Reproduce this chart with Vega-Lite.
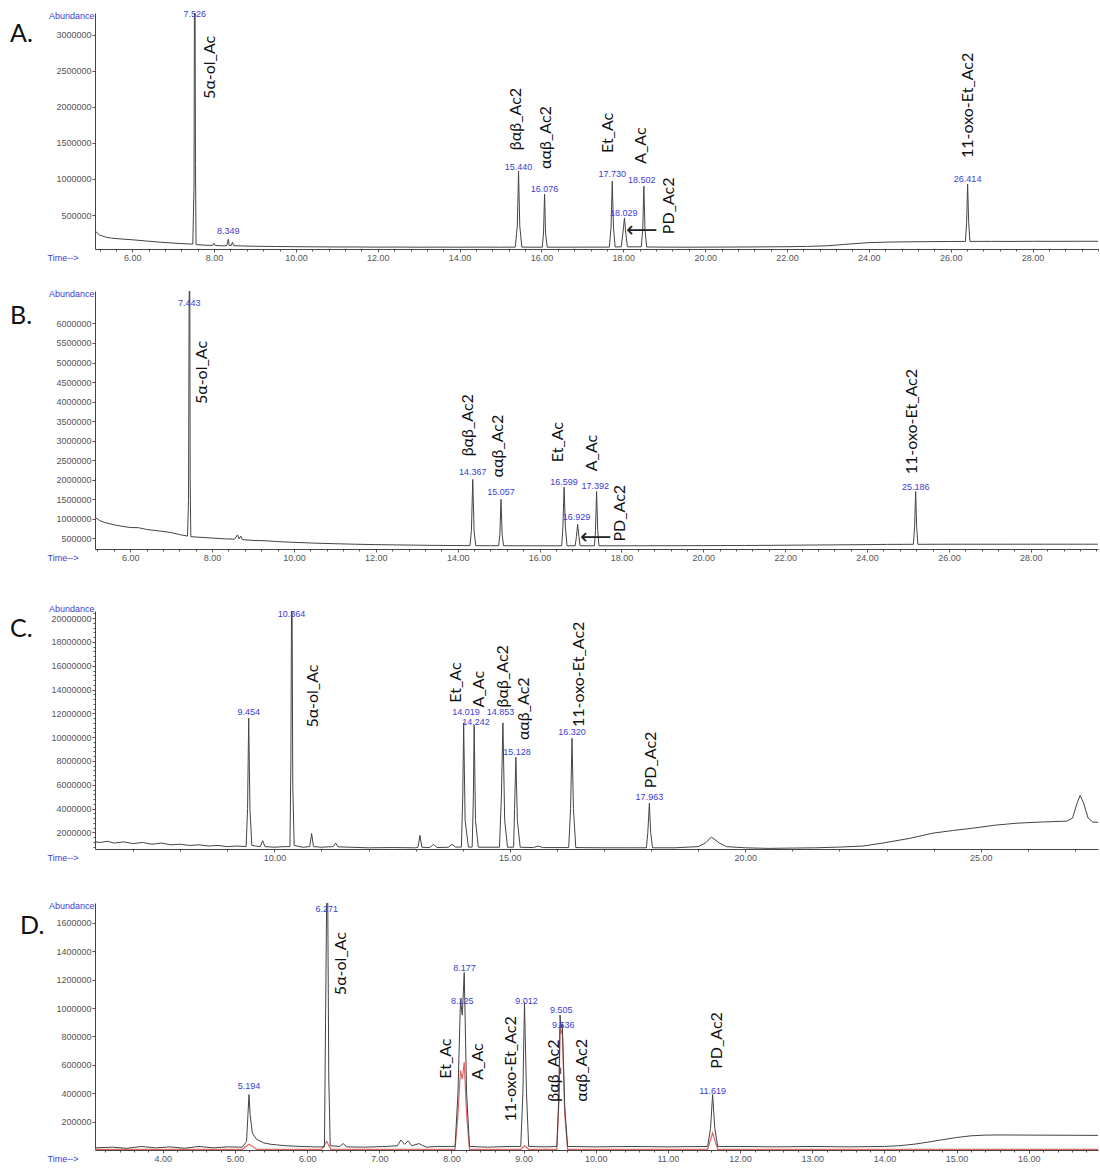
{
"$schema": "https://vega.github.io/schema/vega-lite/v6.json",
"padding": {"left": 10, "top": 10, "right": 0, "bottom": 0},
"background": "white",
"config": {
  "view": {"stroke": null},
  "axis": {"labelFont": "Liberation Sans", "labelFontSize": 9, "labelColor": "#555", "titleFont": "Liberation Sans", "titleFontSize": 9, "titleFontWeight": "normal", "titleColor": "#3c3cd2", "domainColor": "#444", "tickColor": "#555", "tickSize": 3, "grid": false, "labelPadding": 1, "labelFlush": false, "labelOverlap": false},
  "title": {"font": "Lato, 'Open Sans', sans-serif", "fontSize": 25, "fontWeight": "normal", "color": "#111", "anchor": "start", "frame": "group", "orient": "top", "offset": 0, "baseline": "alphabetic"}
},
"datasets": {
"curves": [
{"p":"A","s":"m","t":5.09,"v":280000},{"p":"A","s":"m","t":5.2,"v":225000},{"p":"A","s":"m","t":5.35,"v":195000},{"p":"A","s":"m","t":5.5,"v":180000},{"p":"A","s":"m","t":5.75,"v":168000},{"p":"A","s":"m","t":6.0,"v":158000},{"p":"A","s":"m","t":6.3,"v":143000},{"p":"A","s":"m","t":6.6,"v":128000},{"p":"A","s":"m","t":7.0,"v":112000},{"p":"A","s":"m","t":7.3,"v":102000},{"p":"A","s":"m","t":7.48,"v":98000},{"p":"A","s":"m","t":7.51,"v":900000},{"p":"A","s":"m","t":7.52,"v":3500000},{"p":"A","s":"m","t":7.535,"v":3500000},{"p":"A","s":"m","t":7.545,"v":1200000},{"p":"A","s":"m","t":7.56,"v":90000},{"p":"A","s":"m","t":7.8,"v":82000},{"p":"A","s":"m","t":7.97,"v":80000},{"p":"A","s":"m","t":8.0,"v":110000},{"p":"A","s":"m","t":8.03,"v":78000},{"p":"A","s":"m","t":8.2,"v":75000},{"p":"A","s":"m","t":8.31,"v":76000},{"p":"A","s":"m","t":8.33,"v":130000},{"p":"A","s":"m","t":8.349,"v":165000},{"p":"A","s":"m","t":8.37,"v":80000},{"p":"A","s":"m","t":8.42,"v":78000},{"p":"A","s":"m","t":8.45,"v":125000},{"p":"A","s":"m","t":8.48,"v":76000},{"p":"A","s":"m","t":8.7,"v":72000},{"p":"A","s":"m","t":9.0,"v":68000},{"p":"A","s":"m","t":9.5,"v":65000},{"p":"A","s":"m","t":10.0,"v":62000},{"p":"A","s":"m","t":10.5,"v":60000},{"p":"A","s":"m","t":11.0,"v":58000},{"p":"A","s":"m","t":11.5,"v":58000},{"p":"A","s":"m","t":12.0,"v":56000},{"p":"A","s":"m","t":12.5,"v":57000},{"p":"A","s":"m","t":13.0,"v":55000},{"p":"A","s":"m","t":13.5,"v":56000},{"p":"A","s":"m","t":14.0,"v":55000},{"p":"A","s":"m","t":14.5,"v":56000},{"p":"A","s":"m","t":15.0,"v":55000},{"p":"A","s":"m","t":15.36,"v":56000},{"p":"A","s":"m","t":15.41,"v":350000},{"p":"A","s":"m","t":15.44,"v":1110000},{"p":"A","s":"m","t":15.47,"v":350000},{"p":"A","s":"m","t":15.52,"v":56000},{"p":"A","s":"m","t":15.8,"v":55000},{"p":"A","s":"m","t":16.02,"v":55000},{"p":"A","s":"m","t":16.05,"v":250000},{"p":"A","s":"m","t":16.076,"v":790000},{"p":"A","s":"m","t":16.1,"v":250000},{"p":"A","s":"m","t":16.14,"v":55000},{"p":"A","s":"m","t":16.6,"v":55000},{"p":"A","s":"m","t":17.0,"v":56000},{"p":"A","s":"m","t":17.66,"v":56000},{"p":"A","s":"m","t":17.7,"v":330000},{"p":"A","s":"m","t":17.73,"v":970000},{"p":"A","s":"m","t":17.76,"v":330000},{"p":"A","s":"m","t":17.8,"v":58000},{"p":"A","s":"m","t":17.95,"v":60000},{"p":"A","s":"m","t":17.99,"v":250000},{"p":"A","s":"m","t":18.029,"v":460000},{"p":"A","s":"m","t":18.06,"v":250000},{"p":"A","s":"m","t":18.1,"v":60000},{"p":"A","s":"m","t":18.44,"v":60000},{"p":"A","s":"m","t":18.475,"v":300000},{"p":"A","s":"m","t":18.502,"v":900000},{"p":"A","s":"m","t":18.53,"v":300000},{"p":"A","s":"m","t":18.57,"v":58000},{"p":"A","s":"m","t":19.0,"v":56000},{"p":"A","s":"m","t":19.5,"v":55000},{"p":"A","s":"m","t":20.0,"v":56000},{"p":"A","s":"m","t":20.5,"v":57000},{"p":"A","s":"m","t":21.0,"v":58000},{"p":"A","s":"m","t":21.5,"v":60000},{"p":"A","s":"m","t":22.0,"v":62000},{"p":"A","s":"m","t":22.5,"v":66000},{"p":"A","s":"m","t":23.0,"v":75000},{"p":"A","s":"m","t":23.5,"v":98000},{"p":"A","s":"m","t":24.0,"v":118000},{"p":"A","s":"m","t":24.5,"v":126000},{"p":"A","s":"m","t":25.0,"v":130000},{"p":"A","s":"m","t":25.5,"v":132000},{"p":"A","s":"m","t":26.0,"v":134000},{"p":"A","s":"m","t":26.36,"v":135000},{"p":"A","s":"m","t":26.39,"v":400000},{"p":"A","s":"m","t":26.414,"v":930000},{"p":"A","s":"m","t":26.44,"v":400000},{"p":"A","s":"m","t":26.47,"v":135000},{"p":"A","s":"m","t":27.0,"v":136000},{"p":"A","s":"m","t":27.5,"v":135000},{"p":"A","s":"m","t":28.0,"v":137000},{"p":"A","s":"m","t":28.5,"v":136000},{"p":"A","s":"m","t":29.0,"v":137000},{"p":"A","s":"m","t":29.6,"v":137000},
{"p":"B","s":"m","t":5.14,"v":1040000},{"p":"B","s":"m","t":5.25,"v":960000},{"p":"B","s":"m","t":5.4,"v":900000},{"p":"B","s":"m","t":5.6,"v":850000},{"p":"B","s":"m","t":5.8,"v":810000},{"p":"B","s":"m","t":6.0,"v":780000},{"p":"B","s":"m","t":6.2,"v":775000},{"p":"B","s":"m","t":6.4,"v":730000},{"p":"B","s":"m","t":6.6,"v":705000},{"p":"B","s":"m","t":6.8,"v":680000},{"p":"B","s":"m","t":7.0,"v":650000},{"p":"B","s":"m","t":7.2,"v":600000},{"p":"B","s":"m","t":7.4,"v":560000},{"p":"B","s":"m","t":7.425,"v":1500000},{"p":"B","s":"m","t":7.437,"v":6000000},{"p":"B","s":"m","t":7.443,"v":7200000},{"p":"B","s":"m","t":7.455,"v":7200000},{"p":"B","s":"m","t":7.465,"v":2000000},{"p":"B","s":"m","t":7.48,"v":545000},{"p":"B","s":"m","t":7.7,"v":530000},{"p":"B","s":"m","t":8.0,"v":510000},{"p":"B","s":"m","t":8.3,"v":490000},{"p":"B","s":"m","t":8.55,"v":480000},{"p":"B","s":"m","t":8.62,"v":590000},{"p":"B","s":"m","t":8.66,"v":490000},{"p":"B","s":"m","t":8.7,"v":560000},{"p":"B","s":"m","t":8.74,"v":470000},{"p":"B","s":"m","t":9.0,"v":450000},{"p":"B","s":"m","t":9.3,"v":440000},{"p":"B","s":"m","t":9.6,"v":420000},{"p":"B","s":"m","t":10.0,"v":400000},{"p":"B","s":"m","t":10.5,"v":380000},{"p":"B","s":"m","t":11.0,"v":365000},{"p":"B","s":"m","t":11.5,"v":352000},{"p":"B","s":"m","t":12.0,"v":342000},{"p":"B","s":"m","t":12.5,"v":335000},{"p":"B","s":"m","t":13.0,"v":328000},{"p":"B","s":"m","t":13.5,"v":322000},{"p":"B","s":"m","t":14.0,"v":318000},{"p":"B","s":"m","t":14.3,"v":316000},{"p":"B","s":"m","t":14.335,"v":700000},{"p":"B","s":"m","t":14.367,"v":2010000},{"p":"B","s":"m","t":14.4,"v":700000},{"p":"B","s":"m","t":14.44,"v":316000},{"p":"B","s":"m","t":14.8,"v":314000},{"p":"B","s":"m","t":15.0,"v":314000},{"p":"B","s":"m","t":15.03,"v":600000},{"p":"B","s":"m","t":15.057,"v":1500000},{"p":"B","s":"m","t":15.085,"v":600000},{"p":"B","s":"m","t":15.12,"v":314000},{"p":"B","s":"m","t":15.8,"v":312000},{"p":"B","s":"m","t":16.4,"v":312000},{"p":"B","s":"m","t":16.54,"v":312000},{"p":"B","s":"m","t":16.57,"v":800000},{"p":"B","s":"m","t":16.599,"v":1810000},{"p":"B","s":"m","t":16.63,"v":800000},{"p":"B","s":"m","t":16.67,"v":312000},{"p":"B","s":"m","t":16.87,"v":312000},{"p":"B","s":"m","t":16.9,"v":550000},{"p":"B","s":"m","t":16.929,"v":860000},{"p":"B","s":"m","t":16.96,"v":550000},{"p":"B","s":"m","t":16.99,"v":312000},{"p":"B","s":"m","t":17.34,"v":312000},{"p":"B","s":"m","t":17.365,"v":700000},{"p":"B","s":"m","t":17.392,"v":1700000},{"p":"B","s":"m","t":17.42,"v":700000},{"p":"B","s":"m","t":17.45,"v":312000},{"p":"B","s":"m","t":18.0,"v":312000},{"p":"B","s":"m","t":19.0,"v":314000},{"p":"B","s":"m","t":20.0,"v":316000},{"p":"B","s":"m","t":21.0,"v":320000},{"p":"B","s":"m","t":22.0,"v":326000},{"p":"B","s":"m","t":23.0,"v":334000},{"p":"B","s":"m","t":24.0,"v":342000},{"p":"B","s":"m","t":24.5,"v":348000},{"p":"B","s":"m","t":25.0,"v":350000},{"p":"B","s":"m","t":25.13,"v":350000},{"p":"B","s":"m","t":25.16,"v":800000},{"p":"B","s":"m","t":25.186,"v":1700000},{"p":"B","s":"m","t":25.21,"v":800000},{"p":"B","s":"m","t":25.24,"v":350000},{"p":"B","s":"m","t":26.0,"v":352000},{"p":"B","s":"m","t":27.0,"v":352000},{"p":"B","s":"m","t":28.0,"v":353000},{"p":"B","s":"m","t":29.64,"v":353000},
{"p":"C","s":"m","t":6.19,"v":1200000},{"p":"C","s":"m","t":6.3,"v":1150000},{"p":"C","s":"m","t":6.45,"v":1250000},{"p":"C","s":"m","t":6.6,"v":1100000},{"p":"C","s":"m","t":6.8,"v":1200000},{"p":"C","s":"m","t":7.0,"v":1050000},{"p":"C","s":"m","t":7.2,"v":1150000},{"p":"C","s":"m","t":7.4,"v":1000000},{"p":"C","s":"m","t":7.6,"v":1100000},{"p":"C","s":"m","t":7.8,"v":950000},{"p":"C","s":"m","t":8.0,"v":1000000},{"p":"C","s":"m","t":8.2,"v":900000},{"p":"C","s":"m","t":8.4,"v":950000},{"p":"C","s":"m","t":8.6,"v":850000},{"p":"C","s":"m","t":8.8,"v":900000},{"p":"C","s":"m","t":9.0,"v":800000},{"p":"C","s":"m","t":9.2,"v":850000},{"p":"C","s":"m","t":9.4,"v":800000},{"p":"C","s":"m","t":9.43,"v":4000000},{"p":"C","s":"m","t":9.454,"v":11600000},{"p":"C","s":"m","t":9.48,"v":4000000},{"p":"C","s":"m","t":9.52,"v":900000},{"p":"C","s":"m","t":9.6,"v":850000},{"p":"C","s":"m","t":9.7,"v":800000},{"p":"C","s":"m","t":9.75,"v":1300000},{"p":"C","s":"m","t":9.8,"v":800000},{"p":"C","s":"m","t":10.0,"v":750000},{"p":"C","s":"m","t":10.2,"v":800000},{"p":"C","s":"m","t":10.33,"v":800000},{"p":"C","s":"m","t":10.35,"v":8000000},{"p":"C","s":"m","t":10.364,"v":21500000},{"p":"C","s":"m","t":10.375,"v":21500000},{"p":"C","s":"m","t":10.39,"v":6000000},{"p":"C","s":"m","t":10.42,"v":900000},{"p":"C","s":"m","t":10.6,"v":750000},{"p":"C","s":"m","t":10.75,"v":800000},{"p":"C","s":"m","t":10.79,"v":1900000},{"p":"C","s":"m","t":10.83,"v":800000},{"p":"C","s":"m","t":11.0,"v":750000},{"p":"C","s":"m","t":11.25,"v":800000},{"p":"C","s":"m","t":11.3,"v":1100000},{"p":"C","s":"m","t":11.35,"v":780000},{"p":"C","s":"m","t":11.6,"v":750000},{"p":"C","s":"m","t":12.0,"v":700000},{"p":"C","s":"m","t":12.5,"v":720000},{"p":"C","s":"m","t":13.0,"v":700000},{"p":"C","s":"m","t":13.05,"v":750000},{"p":"C","s":"m","t":13.09,"v":1750000},{"p":"C","s":"m","t":13.13,"v":750000},{"p":"C","s":"m","t":13.3,"v":720000},{"p":"C","s":"m","t":13.38,"v":1000000},{"p":"C","s":"m","t":13.45,"v":720000},{"p":"C","s":"m","t":13.7,"v":750000},{"p":"C","s":"m","t":13.77,"v":1000000},{"p":"C","s":"m","t":13.85,"v":760000},{"p":"C","s":"m","t":13.97,"v":760000},{"p":"C","s":"m","t":14.0,"v":5000000},{"p":"C","s":"m","t":14.019,"v":11200000},{"p":"C","s":"m","t":14.05,"v":3000000},{"p":"C","s":"m","t":14.12,"v":760000},{"p":"C","s":"m","t":14.2,"v":760000},{"p":"C","s":"m","t":14.225,"v":5000000},{"p":"C","s":"m","t":14.242,"v":11000000},{"p":"C","s":"m","t":14.27,"v":3000000},{"p":"C","s":"m","t":14.33,"v":750000},{"p":"C","s":"m","t":14.78,"v":750000},{"p":"C","s":"m","t":14.82,"v":5000000},{"p":"C","s":"m","t":14.853,"v":11200000},{"p":"C","s":"m","t":14.89,"v":3000000},{"p":"C","s":"m","t":14.95,"v":750000},{"p":"C","s":"m","t":15.08,"v":750000},{"p":"C","s":"m","t":15.1,"v":4000000},{"p":"C","s":"m","t":15.128,"v":8300000},{"p":"C","s":"m","t":15.16,"v":3000000},{"p":"C","s":"m","t":15.22,"v":750000},{"p":"C","s":"m","t":15.5,"v":720000},{"p":"C","s":"m","t":15.6,"v":850000},{"p":"C","s":"m","t":15.7,"v":720000},{"p":"C","s":"m","t":16.25,"v":720000},{"p":"C","s":"m","t":16.29,"v":4000000},{"p":"C","s":"m","t":16.32,"v":9900000},{"p":"C","s":"m","t":16.35,"v":4000000},{"p":"C","s":"m","t":16.4,"v":720000},{"p":"C","s":"m","t":17.0,"v":700000},{"p":"C","s":"m","t":17.5,"v":700000},{"p":"C","s":"m","t":17.9,"v":700000},{"p":"C","s":"m","t":17.93,"v":2000000},{"p":"C","s":"m","t":17.963,"v":4450000},{"p":"C","s":"m","t":17.99,"v":2000000},{"p":"C","s":"m","t":18.03,"v":700000},{"p":"C","s":"m","t":18.5,"v":700000},{"p":"C","s":"m","t":19.0,"v":800000},{"p":"C","s":"m","t":19.15,"v":1100000},{"p":"C","s":"m","t":19.28,"v":1600000},{"p":"C","s":"m","t":19.45,"v":1100000},{"p":"C","s":"m","t":19.6,"v":800000},{"p":"C","s":"m","t":20.0,"v":700000},{"p":"C","s":"m","t":20.5,"v":650000},{"p":"C","s":"m","t":21.0,"v":680000},{"p":"C","s":"m","t":21.5,"v":700000},{"p":"C","s":"m","t":22.0,"v":760000},{"p":"C","s":"m","t":22.5,"v":850000},{"p":"C","s":"m","t":22.92,"v":1100000},{"p":"C","s":"m","t":23.5,"v":1500000},{"p":"C","s":"m","t":23.98,"v":1930000},{"p":"C","s":"m","t":24.4,"v":2150000},{"p":"C","s":"m","t":24.83,"v":2350000},{"p":"C","s":"m","t":25.3,"v":2600000},{"p":"C","s":"m","t":25.77,"v":2770000},{"p":"C","s":"m","t":26.3,"v":2870000},{"p":"C","s":"m","t":26.83,"v":2940000},{"p":"C","s":"m","t":26.95,"v":3200000},{"p":"C","s":"m","t":27.05,"v":4500000},{"p":"C","s":"m","t":27.11,"v":5100000},{"p":"C","s":"m","t":27.18,"v":4500000},{"p":"C","s":"m","t":27.28,"v":3200000},{"p":"C","s":"m","t":27.38,"v":2860000},{"p":"C","s":"m","t":27.49,"v":2850000},
{"p":"D","s":"r","t":3.06,"v":5000},{"p":"D","s":"r","t":5.1,"v":5000},{"p":"D","s":"r","t":5.194,"v":40000},{"p":"D","s":"r","t":5.3,"v":5000},{"p":"D","s":"r","t":6.2,"v":5000},{"p":"D","s":"r","t":6.271,"v":60000},{"p":"D","s":"r","t":6.33,"v":5000},{"p":"D","s":"r","t":8.05,"v":5000},{"p":"D","s":"r","t":8.09,"v":250000},{"p":"D","s":"r","t":8.125,"v":560000},{"p":"D","s":"r","t":8.15,"v":500000},{"p":"D","s":"r","t":8.177,"v":620000},{"p":"D","s":"r","t":8.21,"v":250000},{"p":"D","s":"r","t":8.25,"v":5000},{"p":"D","s":"r","t":8.96,"v":5000},{"p":"D","s":"r","t":9.012,"v":30000},{"p":"D","s":"r","t":9.07,"v":5000},{"p":"D","s":"r","t":9.46,"v":5000},{"p":"D","s":"r","t":9.49,"v":350000},{"p":"D","s":"r","t":9.505,"v":880000},{"p":"D","s":"r","t":9.52,"v":820000},{"p":"D","s":"r","t":9.536,"v":850000},{"p":"D","s":"r","t":9.57,"v":250000},{"p":"D","s":"r","t":9.61,"v":5000},{"p":"D","s":"r","t":11.55,"v":5000},{"p":"D","s":"r","t":11.619,"v":120000},{"p":"D","s":"r","t":11.69,"v":5000},{"p":"D","s":"r","t":16.96,"v":5000},
{"p":"D","s":"m","t":3.06,"v":15000},{"p":"D","s":"m","t":3.3,"v":20000},{"p":"D","s":"m","t":3.5,"v":12000},{"p":"D","s":"m","t":3.7,"v":25000},{"p":"D","s":"m","t":3.9,"v":15000},{"p":"D","s":"m","t":4.1,"v":22000},{"p":"D","s":"m","t":4.3,"v":12000},{"p":"D","s":"m","t":4.5,"v":25000},{"p":"D","s":"m","t":4.7,"v":15000},{"p":"D","s":"m","t":4.9,"v":22000},{"p":"D","s":"m","t":5.1,"v":20000},{"p":"D","s":"m","t":5.16,"v":60000},{"p":"D","s":"m","t":5.194,"v":390000},{"p":"D","s":"m","t":5.21,"v":250000},{"p":"D","s":"m","t":5.24,"v":120000},{"p":"D","s":"m","t":5.3,"v":75000},{"p":"D","s":"m","t":5.4,"v":50000},{"p":"D","s":"m","t":5.5,"v":40000},{"p":"D","s":"m","t":5.7,"v":30000},{"p":"D","s":"m","t":5.9,"v":25000},{"p":"D","s":"m","t":6.1,"v":22000},{"p":"D","s":"m","t":6.24,"v":22000},{"p":"D","s":"m","t":6.255,"v":900000},{"p":"D","s":"m","t":6.271,"v":1800000},{"p":"D","s":"m","t":6.285,"v":1800000},{"p":"D","s":"m","t":6.3,"v":500000},{"p":"D","s":"m","t":6.32,"v":30000},{"p":"D","s":"m","t":6.45,"v":25000},{"p":"D","s":"m","t":6.5,"v":45000},{"p":"D","s":"m","t":6.55,"v":22000},{"p":"D","s":"m","t":6.8,"v":20000},{"p":"D","s":"m","t":7.1,"v":25000},{"p":"D","s":"m","t":7.25,"v":30000},{"p":"D","s":"m","t":7.3,"v":70000},{"p":"D","s":"m","t":7.35,"v":40000},{"p":"D","s":"m","t":7.4,"v":65000},{"p":"D","s":"m","t":7.45,"v":30000},{"p":"D","s":"m","t":7.55,"v":45000},{"p":"D","s":"m","t":7.65,"v":20000},{"p":"D","s":"m","t":7.8,"v":25000},{"p":"D","s":"m","t":8.05,"v":25000},{"p":"D","s":"m","t":8.09,"v":400000},{"p":"D","s":"m","t":8.125,"v":1060000},{"p":"D","s":"m","t":8.15,"v":950000},{"p":"D","s":"m","t":8.177,"v":1250000},{"p":"D","s":"m","t":8.21,"v":400000},{"p":"D","s":"m","t":8.25,"v":25000},{"p":"D","s":"m","t":8.5,"v":20000},{"p":"D","s":"m","t":8.8,"v":25000},{"p":"D","s":"m","t":8.96,"v":25000},{"p":"D","s":"m","t":8.99,"v":400000},{"p":"D","s":"m","t":9.012,"v":1040000},{"p":"D","s":"m","t":9.04,"v":400000},{"p":"D","s":"m","t":9.07,"v":25000},{"p":"D","s":"m","t":9.3,"v":22000},{"p":"D","s":"m","t":9.46,"v":25000},{"p":"D","s":"m","t":9.49,"v":400000},{"p":"D","s":"m","t":9.505,"v":950000},{"p":"D","s":"m","t":9.52,"v":860000},{"p":"D","s":"m","t":9.536,"v":890000},{"p":"D","s":"m","t":9.57,"v":300000},{"p":"D","s":"m","t":9.61,"v":25000},{"p":"D","s":"m","t":10.0,"v":22000},{"p":"D","s":"m","t":10.5,"v":25000},{"p":"D","s":"m","t":11.0,"v":22000},{"p":"D","s":"m","t":11.55,"v":25000},{"p":"D","s":"m","t":11.59,"v":150000},{"p":"D","s":"m","t":11.619,"v":390000},{"p":"D","s":"m","t":11.65,"v":150000},{"p":"D","s":"m","t":11.69,"v":25000},{"p":"D","s":"m","t":12.0,"v":25000},{"p":"D","s":"m","t":12.5,"v":22000},{"p":"D","s":"m","t":13.0,"v":25000},{"p":"D","s":"m","t":13.5,"v":22000},{"p":"D","s":"m","t":14.0,"v":25000},{"p":"D","s":"m","t":14.2,"v":30000},{"p":"D","s":"m","t":14.4,"v":40000},{"p":"D","s":"m","t":14.6,"v":55000},{"p":"D","s":"m","t":14.8,"v":72000},{"p":"D","s":"m","t":15.0,"v":88000},{"p":"D","s":"m","t":15.2,"v":100000},{"p":"D","s":"m","t":15.4,"v":105000},{"p":"D","s":"m","t":15.6,"v":106000},{"p":"D","s":"m","t":16.0,"v":105000},{"p":"D","s":"m","t":16.5,"v":104000},{"p":"D","s":"m","t":16.96,"v":103000}
],
"peaks": [
{"p":"A","t":7.526,"v":3240000,"label":"7.526"},{"p":"A","t":8.349,"v":236000,"label":"8.349"},{"p":"A","t":15.44,"v":1130000,"label":"15.440"},{"p":"A","t":16.076,"v":820000,"label":"16.076"},{"p":"A","t":17.73,"v":1030000,"label":"17.730"},{"p":"A","t":18.01,"v":490000,"label":"18.029"},{"p":"A","t":18.45,"v":940000,"label":"18.502"},{"p":"A","t":26.414,"v":960000,"label":"26.414"},
{"p":"B","t":7.443,"v":6450000,"label":"7.443"},{"p":"B","t":14.367,"v":2120000,"label":"14.367"},{"p":"B","t":15.057,"v":1600000,"label":"15.057"},{"p":"B","t":16.599,"v":1880000,"label":"16.599"},{"p":"B","t":16.9,"v":960000,"label":"16.929"},{"p":"B","t":17.36,"v":1760000,"label":"17.392"},{"p":"B","t":25.186,"v":1730000,"label":"25.186"},
{"p":"C","t":9.454,"v":11850000,"label":"9.454"},{"p":"C","t":10.364,"v":20100000,"label":"10.364"},{"p":"C","t":14.07,"v":11850000,"label":"14.019"},{"p":"C","t":14.28,"v":11000000,"label":"14.242"},{"p":"C","t":14.8,"v":11850000,"label":"14.853"},{"p":"C","t":15.15,"v":8500000,"label":"15.128"},{"p":"C","t":16.32,"v":10200000,"label":"16.320"},{"p":"C","t":17.963,"v":4700000,"label":"17.963"},
{"p":"D","t":5.194,"v":430000,"label":"5.194"},{"p":"D","t":6.271,"v":1680000,"label":"6.271"},{"p":"D","t":8.18,"v":1260000,"label":"8.177"},{"p":"D","t":8.15,"v":1028000,"label":"8.125"},{"p":"D","t":9.04,"v":1028000,"label":"9.012"},{"p":"D","t":9.52,"v":965000,"label":"9.505"},{"p":"D","t":9.55,"v":860000,"label":"9.536"},{"p":"D","t":11.619,"v":396000,"label":"11.619"}
],
"names": [
{"p":"A","t":7.89,"v":2110000,"name":"5α-ol_Ac"},{"p":"A","t":15.38,"v":1400000,"name":"βαβ_Ac2"},{"p":"A","t":16.11,"v":1140000,"name":"ααβ_Ac2"},{"p":"A","t":17.62,"v":1360000,"name":"Et_Ac"},{"p":"A","t":18.43,"v":1210000,"name":"A_Ac"},{"p":"A","t":19.11,"v":236000,"name":"PD_Ac2"},{"p":"A","t":26.43,"v":1290000,"name":"11-oxo-Et_Ac2"},
{"p":"B","t":7.76,"v":3940000,"name":"5α-ol_Ac"},{"p":"B","t":14.24,"v":2600000,"name":"βαβ_Ac2"},{"p":"B","t":14.99,"v":2060000,"name":"ααβ_Ac2"},{"p":"B","t":16.46,"v":2450000,"name":"Et_Ac"},{"p":"B","t":17.27,"v":2220000,"name":"A_Ac"},{"p":"B","t":17.96,"v":420000,"name":"PD_Ac2"},{"p":"B","t":25.1,"v":2140000,"name":"11-oxo-Et_Ac2"},
{"p":"C","t":10.83,"v":10800000,"name":"5α-ol_Ac"},{"p":"C","t":13.85,"v":12900000,"name":"Et_Ac"},{"p":"C","t":14.34,"v":12500000,"name":"A_Ac"},{"p":"C","t":14.85,"v":12500000,"name":"βαβ_Ac2"},{"p":"C","t":15.3,"v":9750000,"name":"ααβ_Ac2"},{"p":"C","t":16.47,"v":10850000,"name":"11-oxo-Et_Ac2"},{"p":"C","t":18.0,"v":5700000,"name":"PD_Ac2"},
{"p":"D","t":6.47,"v":1091000,"name":"5α-ol_Ac"},{"p":"D","t":7.92,"v":502000,"name":"Et_Ac"},{"p":"D","t":8.37,"v":495000,"name":"A_Ac"},{"p":"D","t":8.83,"v":200000,"name":"11-oxo-Et_Ac2"},{"p":"D","t":9.42,"v":340000,"name":"βαβ_Ac2"},{"p":"D","t":9.81,"v":340000,"name":"ααβ_Ac2"},{"p":"D","t":11.68,"v":572000,"name":"PD_Ac2"}
],
"arrows": [
{"p":"A","t":18.45,"v":300000},{"p":"B","t":17.37,"v":540000}
]
},
"vconcat": [
{
"vconcat": [
{
"width": 1003, "height": 236,
"title": {"text": "A.", "dx": -85, "dy": 40.5},
"encoding": {
  "x": {"field": "t", "type": "quantitative", "scale": {"domain": [5.09, 29.6], "nice": false, "zero": false}, "axis": {"values": [5.2,5.6,6,6.4,6.8,7.2,7.6,8,8.4,8.8,9.2,9.6,10,10.4,10.8,11.2,11.6,12,12.4,12.8,13.2,13.6,14,14.4,14.8,15.2,15.6,16,16.4,16.8,17.2,17.6,18,18.4,18.8,19.2,19.6,20,20.4,20.8,21.2,21.6,22,22.4,22.8,23.2,23.6,24,24.4,24.8,25.2,25.6,26,26.4,26.8,27.2,27.6,28,28.4,28.8,29.2,29.6], "labelExpr": "abs(datum.value % 2) < 0.001 ? format(datum.value, '.2f') : ''", "tickSize": {"condition": {"test": "abs(datum.value % 2) < 0.001", "value": 3}, "value": 2}, "title": "Time-->", "titleX": -48, "titleY": 8, "titleAlign": "left", "titleBaseline": "middle", "titleAngle": 0}},
  "y": {"field": "v", "type": "quantitative", "scale": {"domain": [30000, 3300000], "nice": false, "zero": false}, "axis": {"values": [500000,1000000,1500000,2000000,2500000,3000000], "format": "d", "title": "Abundance", "titleX": -1, "titleY": 2, "titleAlign": "right", "titleBaseline": "middle", "titleAngle": 0}}
},
"layer": [
  {"data": {"name": "curves"}, "transform": [{"filter": "datum.p === 'A'"}], "mark": {"type": "line", "clip": true, "strokeWidth": 1, "color": "#444"}},
  {"data": {"name": "peaks"}, "transform": [{"filter": "datum.p === 'A'"}], "mark": {"type": "text", "font": "Liberation Sans", "fontSize": 9, "color": "#3c3cd2", "baseline": "alphabetic", "align": "center"}, "encoding": {"text": {"field": "label"}}},
  {"data": {"name": "names"}, "transform": [{"filter": "datum.p === 'A'"}], "mark": {"type": "text", "font": "Lato, 'Open Sans', sans-serif", "fontSize": 16, "color": "#111", "angle": 270, "align": "left", "baseline": "middle"}, "encoding": {"text": {"field": "name"}}},
  {"data": {"name": "arrows"}, "transform": [{"filter": "datum.p === 'A'"}], "mark": {"type": "text", "text": "⟵", "font": "DejaVu Sans", "fontSize": 22, "color": "#222", "align": "center", "baseline": "middle"}}
]
},
{
"width": 1003, "height": 258,
"title": {"text": "B.", "dx": -85, "dy": 43.5},
"encoding": {
  "x": {"field": "t", "type": "quantitative", "scale": {"domain": [5.14, 29.64], "nice": false, "zero": false}, "axis": {"values": [5.2,5.6,6,6.4,6.8,7.2,7.6,8,8.4,8.8,9.2,9.6,10,10.4,10.8,11.2,11.6,12,12.4,12.8,13.2,13.6,14,14.4,14.8,15.2,15.6,16,16.4,16.8,17.2,17.6,18,18.4,18.8,19.2,19.6,20,20.4,20.8,21.2,21.6,22,22.4,22.8,23.2,23.6,24,24.4,24.8,25.2,25.6,26,26.4,26.8,27.2,27.6,28,28.4,28.8,29.2,29.6], "labelExpr": "abs(datum.value % 2) < 0.001 ? format(datum.value, '.2f') : ''", "tickSize": {"condition": {"test": "abs(datum.value % 2) < 0.001", "value": 3}, "value": 2}, "title": "Time-->", "titleX": -48, "titleY": 8, "titleAlign": "left", "titleBaseline": "middle", "titleAngle": 0}},
  "y": {"field": "v", "type": "quantitative", "scale": {"domain": [230000, 6830000], "nice": false, "zero": false}, "axis": {"values": [500000,1000000,1500000,2000000,2500000,3000000,3500000,4000000,4500000,5000000,5500000,6000000], "format": "d", "title": "Abundance", "titleX": -1, "titleY": 2, "titleAlign": "right", "titleBaseline": "middle", "titleAngle": 0}}
},
"layer": [
  {"data": {"name": "curves"}, "transform": [{"filter": "datum.p === 'B'"}], "mark": {"type": "line", "clip": true, "strokeWidth": 1, "color": "#444"}},
  {"data": {"name": "peaks"}, "transform": [{"filter": "datum.p === 'B'"}], "mark": {"type": "text", "font": "Liberation Sans", "fontSize": 9, "color": "#3c3cd2", "baseline": "alphabetic", "align": "center"}, "encoding": {"text": {"field": "label"}}},
  {"data": {"name": "names"}, "transform": [{"filter": "datum.p === 'B'"}], "mark": {"type": "text", "font": "Lato, 'Open Sans', sans-serif", "fontSize": 16, "color": "#111", "angle": 270, "align": "left", "baseline": "middle"}, "encoding": {"text": {"field": "name"}}},
  {"data": {"name": "arrows"}, "transform": [{"filter": "datum.p === 'B'"}], "mark": {"type": "text", "text": "⟵", "font": "DejaVu Sans", "fontSize": 22, "color": "#222", "align": "center", "baseline": "middle"}}
]
}
],
"spacing": 27,
"resolve": {"scale": {"x": "independent", "y": "independent"}}
},
{
"vconcat": [
{
"width": 1003, "height": 238,
"title": {"text": "C.", "dx": -85, "dy": 41.5},
"encoding": {
  "x": {"field": "t", "type": "quantitative", "scale": {"domain": [6.19, 27.49], "nice": false, "zero": false}, "axis": {"values": [7,8,9,10,11,12,13,14,15,16,17,18,19,20,21,22,23,24,25,26,27], "labelExpr": "datum.value % 5 === 0 ? format(datum.value, '.2f') : ''", "tickSize": {"condition": {"test": "datum.value % 5 === 0", "value": 3}, "value": 2}, "title": "Time-->", "titleX": -48, "titleY": 8, "titleAlign": "left", "titleBaseline": "middle", "titleAngle": 0}},
  "y": {"field": "v", "type": "quantitative", "scale": {"domain": [600000, 20600000], "nice": false, "zero": false}, "axis": {"values": [800000,1200000,1600000,2000000,2400000,2800000,3200000,3600000,4000000,4400000,4800000,5200000,5600000,6000000,6400000,6800000,7200000,7600000,8000000,8400000,8800000,9200000,9600000,10000000,10400000,10800000,11200000,11600000,12000000,12400000,12800000,13200000,13600000,14000000,14400000,14800000,15200000,15600000,16000000,16400000,16800000,17200000,17600000,18000000,18400000,18800000,19200000,19600000,20000000,20400000], "labelExpr": "datum.value % 2000000 === 0 ? format(datum.value, 'd') : ''", "tickSize": {"condition": {"test": "datum.value % 2000000 === 0", "value": 3}, "value": 2}, "title": "Abundance", "titleX": -1, "titleY": -3, "titleAlign": "right", "titleBaseline": "middle", "titleAngle": 0}}
},
"layer": [
  {"data": {"name": "curves"}, "transform": [{"filter": "datum.p === 'C'"}], "mark": {"type": "line", "clip": true, "strokeWidth": 1, "color": "#444"}},
  {"data": {"name": "peaks"}, "transform": [{"filter": "datum.p === 'C'"}], "mark": {"type": "text", "font": "Liberation Sans", "fontSize": 9, "color": "#3c3cd2", "baseline": "alphabetic", "align": "center"}, "encoding": {"text": {"field": "label"}}},
  {"data": {"name": "names"}, "transform": [{"filter": "datum.p === 'C'"}], "mark": {"type": "text", "font": "Lato, 'Open Sans', sans-serif", "fontSize": 16, "color": "#111", "angle": 270, "align": "left", "baseline": "middle"}, "encoding": {"text": {"field": "name"}}}
]
},
{
"width": 1003, "height": 247,
"title": {"text": "D.", "dx": -75, "dy": 41.5},
"encoding": {
  "x": {"field": "t", "type": "quantitative", "scale": {"domain": [3.06, 16.96], "nice": false, "zero": false}, "axis": {"values": [3.2,3.4,3.6,3.8,4,4.2,4.4,4.6,4.8,5,5.2,5.4,5.6,5.8,6,6.2,6.4,6.6,6.8,7,7.2,7.4,7.6,7.8,8,8.2,8.4,8.6,8.8,9,9.2,9.4,9.6,9.8,10,10.2,10.4,10.6,10.8,11,11.2,11.4,11.6,11.8,12,12.2,12.4,12.6,12.8,13,13.2,13.4,13.6,13.8,14,14.2,14.4,14.6,14.8,15,15.2,15.4,15.6,15.8,16,16.2,16.4,16.6,16.8], "labelExpr": "abs(datum.value - round(datum.value)) < 0.001 ? format(datum.value, '.2f') : ''", "tickSize": {"condition": {"test": "abs(datum.value - round(datum.value)) < 0.001", "value": 3}, "value": 2}, "title": "Time-->", "titleX": -48, "titleY": 8, "titleAlign": "left", "titleBaseline": "middle", "titleAngle": 0}},
  "y": {"field": "v", "type": "quantitative", "scale": {"domain": [0, 1740000], "nice": false, "zero": false}, "axis": {"values": [200000,400000,600000,800000,1000000,1200000,1400000,1600000], "format": "d", "title": "Abundance", "titleX": -1, "titleY": 2, "titleAlign": "right", "titleBaseline": "middle", "titleAngle": 0}}
},
"layer": [
  {"data": {"name": "curves"}, "transform": [{"filter": "datum.p === 'D' && datum.s === 'r'"}], "mark": {"type": "line", "clip": true, "strokeWidth": 1.2, "color": "#e06666"}},
  {"data": {"name": "curves"}, "transform": [{"filter": "datum.p === 'D' && datum.s === 'm'"}], "mark": {"type": "line", "clip": true, "strokeWidth": 1, "color": "#444"}},
  {"data": {"name": "peaks"}, "transform": [{"filter": "datum.p === 'D'"}], "mark": {"type": "text", "font": "Liberation Sans", "fontSize": 9, "color": "#3c3cd2", "baseline": "alphabetic", "align": "center"}, "encoding": {"text": {"field": "label"}}},
  {"data": {"name": "names"}, "transform": [{"filter": "datum.p === 'D'"}], "mark": {"type": "text", "font": "Lato, 'Open Sans', sans-serif", "fontSize": 16, "color": "#111", "angle": 270, "align": "left", "baseline": "middle"}, "encoding": {"text": {"field": "name"}}}
]
}
],
"spacing": 39,
"resolve": {"scale": {"x": "independent", "y": "independent"}}
}
],
"spacing": 42,
"resolve": {"scale": {"x": "independent", "y": "independent"}}
}
